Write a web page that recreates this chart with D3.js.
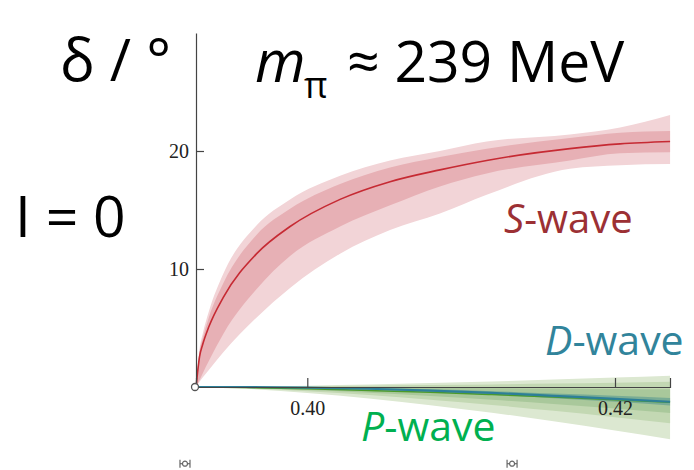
<!DOCTYPE html>
<html>
<head>
<meta charset="utf-8">
<script src="https://cdn.jsdelivr.net/npm/d3@7"></script>
<style>
  html, body { margin: 0; padding: 0; background: #fff; }
  svg { display: block; }
  .big { font-family: 'Open Sans', 'Noto Sans', sans-serif; fill: #000; }
  .tick text { font-family: 'Liberation Serif', 'DejaVu Serif', serif; font-size: 20px; fill: #222; }
  .axis path, .axis line { stroke: #444; stroke-width: 1.2; }
</style>
</head>
<body>
<div id="chart"></div>
<script>
// S-wave (I = 0), phase shift in degrees vs energy
const sEnergy  = [0.39277, 0.3930, 0.3932, 0.3936, 0.39454, 0.39671, 0.39888, 0.40213, 0.40538, 0.40862, 0.41166, 0.41707, 0.42033, 0.42358];
const sCentral = [0, 2.6, 3.6, 5.1, 7.6, 11.3, 13.6, 15.9, 17.4, 18.4, 19.2, 20.2, 20.6, 20.8];
const sInnerHi = [0, 3.0, 4.1, 5.9, 8.8, 12.9, 15.1, 17.2, 18.6, 19.5, 20.2, 21.1, 21.55, 21.7];
const sInnerLo = [0, 0.6, 1.15, 2.2, 4.5, 8.3, 11.1, 13.6, 15.4, 17.0, 18.1, 19.2, 19.8, 19.9];
const sOuterHi = [0, 3.25, 4.5, 6.4, 9.6, 13.7, 15.9, 17.9, 19.2, 20.0, 20.8, 21.4, 22.0, 23.05];
const sOuterLo = [0, 0.45, 0.8, 1.45, 2.95, 5.9, 8.4, 11.3, 13.3, 14.7, 16.3, 18.5, 18.8, 18.9];

// P-wave and D-wave
const pdEnergy = [0.39277, 0.396, 0.400, 0.404, 0.408, 0.412, 0.416, 0.420, 0.42358];
const pCentral = [0, -0.04, -0.15, -0.29, -0.45, -0.64, -0.85, -1.08, -1.3];
const pOuterHi = [0, 0.03, 0.11, 0.21, 0.33, 0.47, 0.63, 0.8, 0.96];
const pOuterLo = [0, -0.15, -0.5, -0.97, -1.54, -2.18, -2.9, -3.68, -4.43];
const pMidHi   = [0, 0.02, 0.05, 0.1, 0.16, 0.22, 0.29, 0.37, 0.45];
const pMidLo   = [0, -0.1, -0.35, -0.68, -1.07, -1.52, -2.02, -2.56, -3.08];
const pInnerHi = [0, -0.01, -0.02, -0.04, -0.07, -0.1, -0.13, -0.17, -0.2];
const pInnerLo = [0, -0.07, -0.25, -0.48, -0.76, -1.08, -1.44, -1.83, -2.2];
const dCentral = [0, 0, -0.05, -0.15, -0.3, -0.5, -0.75, -1.0, -1.25];
const dHi      = [0, 0, -0.02, -0.09, -0.2, -0.35, -0.55, -0.74, -0.93];
const dLo      = [0, 0, -0.08, -0.21, -0.4, -0.65, -0.95, -1.26, -1.57];

const xTicks = [0.40, 0.42];
const yTicks = [10, 20];
const xDomain = [0.392766, 0.423575];
const yDomain = [0, 30];

// small |o| markers under the plot (energy, degrees)
const markers = [[0.39205, -6.5], [0.41331, -6.5]];

const W = 694, H = 470;
const svg = d3.select('#chart').append('svg')
  .attr('width', W)
  .attr('height', H);

const x = d3.scaleLinear().domain(xDomain).range([196, 670]);
const y = d3.scaleLinear().domain(yDomain).range([387, 33]);

function band(xs, lo, hi) {
  return d3.area()
    .x((d, i) => x(xs[i]))
    .y0((d, i) => y(lo[i]))
    .y1((d, i) => y(hi[i]))
    .curve(d3.curveMonotoneX)(xs);
}
function line(xs, vals) {
  return d3.line()
    .x((d, i) => x(xs[i]))
    .y((d, i) => y(vals[i]))
    .curve(d3.curveMonotoneX)(xs);
}

// S-wave bands + line
svg.append('path').attr('d', band(sEnergy, sOuterLo, sOuterHi)).attr('fill', '#f2d4d7');
svg.append('path').attr('d', band(sEnergy, sInnerLo, sInnerHi)).attr('fill', '#e7b0b5');
svg.append('path').attr('d', line(sEnergy, sCentral))
  .attr('fill', 'none').attr('stroke', '#c62a33').attr('stroke-width', 1.6);

// P-wave bands
svg.append('path').attr('d', band(pdEnergy, pOuterLo, pOuterHi)).attr('fill', '#dce8d1');
svg.append('path').attr('d', band(pdEnergy, pMidLo, pMidHi)).attr('fill', '#c3d8b3');
svg.append('path').attr('d', band(pdEnergy, pInnerLo, pInnerHi)).attr('fill', '#a9c89b');

// D-wave band
svg.append('path').attr('d', band(pdEnergy, dLo, dHi)).attr('fill', '#3d8a8c').attr('opacity', 0.45);

svg.append('path').attr('d', line(pdEnergy, pCentral))
  .attr('fill', 'none').attr('stroke', '#4b9a2a').attr('stroke-width', 1.5);
svg.append('path').attr('d', line(pdEnergy, dCentral))
  .attr('fill', 'none').attr('stroke', '#2d7f98').attr('stroke-width', 2.2);

// Axes (Mathematica style: ticks pointing inward)
svg.append('g')
  .attr('class', 'axis')
  .attr('transform', `translate(0,${y(0)})`)
  .call(d3.axisBottom(x).tickValues(xTicks).tickSize(-9).tickFormat(d3.format('.2f')))
  .call(g => g.selectAll('.tick text').attr('dy', '0.71em').attr('y', 14));

svg.append('g')
  .attr('class', 'axis')
  .attr('transform', `translate(${x(xDomain[0])},0)`)
  .call(d3.axisLeft(y).tickValues(yTicks).tickSize(-8).tickSizeOuter(0))
  .call(g => g.selectAll('.tick text').attr('x', -7));

// origin marker
svg.append('circle')
  .attr('cx', x(xDomain[0]) - 1).attr('cy', y(0)).attr('r', 3.5)
  .attr('fill', '#fff').attr('stroke', '#555').attr('stroke-width', 1.3);

// bottom markers
const mk = svg.append('g').selectAll('g').data(markers).join('g')
  .attr('transform', d => `translate(${x(d[0])},${y(d[1])})`)
  .attr('stroke', '#666').attr('fill', 'none').attr('stroke-width', 1.2);
mk.append('line').attr('x1', -5).attr('x2', -5).attr('y1', -4).attr('y2', 4);
mk.append('line').attr('x1', 5).attr('x2', 5).attr('y1', -4).attr('y2', 4);
mk.append('line').attr('x1', -5).attr('x2', 5).attr('y1', 0).attr('y2', 0);
mk.append('circle').attr('r', 2.5).attr('fill', '#fff');

// Titles and labels
svg.append('text').attr('class', 'big')
  .attr('x', 60).attr('y', 81).attr('font-size', 58)
  .text('δ / °');

svg.append('text').attr('class', 'big')
  .attr('x', 15).attr('y', 237).attr('font-size', 57)
  .text('I = 0');

svg.append('text').attr('class', 'big')
  .attr('x', 255).attr('y', 82).attr('font-size', 58).attr('font-style', 'italic')
  .text('m');
svg.append('text').attr('class', 'big')
  .attr('x', 304).attr('y', 98).attr('font-size', 36)
  .text('π');
svg.append('text').attr('class', 'big')
  .attr('x', 347).attr('y', 82).attr('font-size', 57)
  .text('≈ 239 MeV');

function waveLabel(letter, color, xPos, yPos, size) {
  const t = svg.append('text').attr('class', 'big')
    .attr('x', xPos).attr('y', yPos).attr('font-size', size)
    .style('fill', color);
  t.append('tspan').attr('font-style', 'italic').text(letter);
  t.append('tspan').text('-wave');
}
waveLabel('S', '#9c3034', 504, 233, 40);
waveLabel('D', '#31849b', 545, 355, 41);
waveLabel('P', '#00b050', 361, 441, 41);
</script>
</body>
</html>
